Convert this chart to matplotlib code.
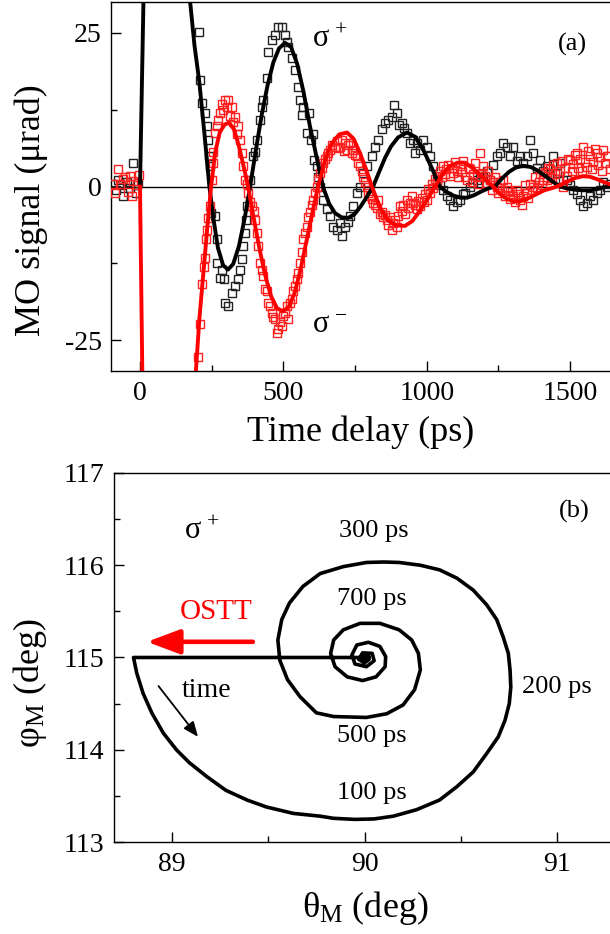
import numpy as np
import matplotlib
matplotlib.use('Agg')
import matplotlib.pyplot as plt

plt.rcParams['font.family'] = ['Liberation Serif', 'DejaVu Serif']
plt.rcParams['mathtext.fontset'] = 'custom'
plt.rcParams['mathtext.rm'] = 'Liberation Serif'
plt.rcParams['mathtext.it'] = 'Liberation Serif:italic'
plt.rcParams['axes.unicode_minus'] = False

# ---- panel (a): measured MO signal, sigma+ (black) and sigma- (red) ----
black_t = [-95, -85, -75, -65, -58, -45, -35, -23, -15, -8,
           207, 209, 215, 227, 233, 236, 240, 244, 248, 262, 267, 270, 279, 285,
           292, 298, 308, 320, 331, 343, 350, 355, 360, 366, 369, 372, 383, 395,
           401, 407, 419, 424, 430, 442, 447, 459, 471, 482, 494, 506, 512, 517,
           529, 541, 552, 558, 564, 570, 581, 590, 596, 603, 608, 616, 620, 628,
           639, 651, 663, 674, 686, 697, 703, 715, 725, 732, 744, 756, 767, 779,
           791, 808, 820, 831, 843, 855, 866, 878, 887, 895, 903, 913, 922, 930,
           942, 953, 959, 965, 977, 988, 1000, 1012, 1023, 1035, 1046, 1058, 1070,
           1081, 1093, 1105, 1116, 1128, 1134, 1151, 1163, 1174, 1186, 1198, 1210,
           1221, 1232, 1244, 1255, 1267, 1279, 1290, 1302, 1314, 1325, 1337, 1349,
           1360, 1372, 1384, 1395, 1407, 1419, 1430, 1442, 1453, 1465, 1477, 1488,
           1500, 1512, 1523, 1535, 1546, 1558, 1570, 1581, 1593, 1605, 1616, 1628, 1640]
black_y = [0.4, -0.6, 1.0, 0.2, -1.6, 0.8, -0.3, 3.9, -1.0, 0.6,
           25.1, 17.4, 13.6, 12.0, 9.8, 7.6, 4.9, 3.3, -4.3, -4.8, -8.6, -12.4, -14.8, -13.5,
           -15.1, -18.9, -19.4, -17.3, -16.2, -15.1, -13.5, -11.8, -9.7, -7.5, -5.4, -3.2, 1.0, 4.9,
           5.6, 7.6, 10.9, 13.0, 14.1, 17.7, 21.9, 23.9, 24.7, 26.0, 26.0, 24.7, 23.5, 22.7,
           20.9, 19.0, 16.2, 14.1, 11.7, 13.0, 8.8, 12.0, 7.6, 8.5, 4.4, 3.3, 1.6, 0.0,
           -2.1, -3.7, -4.8, -6.5, -7.0, -6.0, -8.1, -6.5, -5.8, -4.8, -3.2, -1.0, 0.0, 2.2,
           3.3, 4.9, 6.5, 7.6, 9.3, 10.4, 10.9, 11.4, 13.2, 12.0, 10.0, 10.4, 9.5, 8.8,
           7.1, 7.6, 5.5, 7.1, 6.0, 7.6, 6.5, 4.9, 3.3, 1.1, 0.2, -0.5, -1.5,
           -2.1, -3.2, -2.5, -2.1, -1.2, -1.0, 0.0, 0.6, 1.1, 2.0, 1.6, 2.6,
           1.1, 3.5, 4.9, 5.5, 7.1, 6.5, 5.0, 6.5, 4.2, 4.9, 3.8, 5.0,
           7.6, 5.5, 3.0, 4.4, 2.5, 3.3, 2.0, 4.9, 2.2, 3.9, 1.0, 1.1,
           0.3, -0.5, -1.2, -2.1, -3.2, -2.6, -1.5, -2.1, -1.0, -0.5, 0.8, 0.0, 0.5]

red_t = [-95, -87, -77, -68, -60, -52, -42, -35, -29, -23, -12, -5,
         203, 209, 215, 222, 227, 230, 233, 238, 244, 250, 253, 255, 262, 267, 271,
         279, 285, 290, 296, 302, 308, 314, 320, 326, 331, 337, 343, 349, 355, 360,
         366, 372, 378, 384, 390, 396, 401, 407, 413, 419, 425, 430, 436, 442, 447,
         453, 459, 465, 471, 477, 482, 488, 494, 500, 506, 512, 517, 523, 529, 535,
         541, 547, 552, 558, 564, 570, 576, 581, 587, 593, 599, 605, 610, 616, 622,
         628, 634, 639, 645, 651, 657, 663, 669, 680, 686, 692, 698, 704, 710, 715,
         721, 727, 732, 738, 744, 750, 756, 762, 767, 773, 779, 785, 791, 797, 802,
         808, 814, 820, 825, 831, 837, 843, 849, 855, 860, 866, 872, 878, 884, 889,
         895, 901, 907, 913, 918, 924, 930, 936, 942, 948, 953, 959, 965, 971, 977,
         983, 989, 994, 1000, 1006, 1012, 1018, 1023, 1029, 1035, 1041, 1046, 1052,
         1058, 1064, 1069, 1075, 1081, 1087, 1093, 1099, 1105, 1110, 1116, 1122, 1128,
         1134, 1140, 1146, 1151, 1157, 1163, 1169, 1174, 1180, 1186, 1192, 1198, 1204,
         1210, 1215, 1221, 1227, 1232, 1238, 1244, 1250, 1255, 1261, 1267, 1273, 1279,
         1284, 1290, 1296, 1302, 1308, 1314, 1319, 1325, 1331, 1337, 1343, 1349, 1355,
         1360, 1366, 1372, 1378, 1384, 1390, 1395, 1401, 1407, 1413, 1419, 1424, 1430,
         1436, 1442, 1447, 1453, 1459, 1465, 1471, 1477, 1482, 1488, 1494, 1500, 1506,
         1512, 1517, 1523, 1529, 1535, 1541, 1546, 1552, 1558, 1564, 1570, 1576, 1581,
         1587, 1593, 1599, 1605, 1611, 1616, 1622, 1628, 1634, 1640]
red_y = [0.5, -1.0, 2.8, 0.4, 1.2, 1.5, -0.8, 1.8, -1.6, 0.9, 0.3, 1.9,
         -27.8, -22.4, -15.9, -13.0, -11.6, -8.6, -7.0, -5.1, -3.2, 1.1, 3.9, 5.7, 8.8, 9.8, 10.9,
         12.0, 13.5, 12.5, 14.1, 13.0, 14.1, 11.5, 13.0, 10.5, 11.4, 8.5, 9.8, 7.6, 5.5, 3.3,
         1.1, 0.5, -1.0, -2.5, -3.2, -4.0, -5.4, -7.5, -9.7, -12.4, -13.5, -14.6, -16.7, -17.0, -18.9,
         -19.5, -20.5, -21.2, -21.6, -23.8, -23.2, -22.0, -22.7, -21.0, -20.5, -19.5, -21.6, -19.0, -18.3, -17.0,
         -16.2, -15.0, -14.0, -12.5, -10.7, -8.6, -7.5, -6.5, -5.0, -4.2, -3.0, -2.1, -1.0, 0.0, 1.2,
         2.2, 3.0, 3.9, 4.5, 4.9, 5.5, 6.0, 6.8, 6.5, 7.5, 6.3, 6.5, 7.6, 5.8, 7.1,
         6.0, 6.8, 7.1, 5.5, 6.0, 5.2, 4.9, 3.9, 3.3, 2.5, 1.6, 0.8, 0.0, -1.0, -1.6,
         -2.0, -2.6, -3.0, -3.5, -2.1, -4.5, -4.2, -5.0, -4.6, -5.4, -6.2, -5.0, -7.0, -6.0, -5.5,
         -6.5, -4.8, -3.2, -4.0, -3.0, -4.5, -2.1, -3.5, -2.6, -1.5, -2.6, -3.0, -3.7, -2.4, -3.2,
         -1.8, -2.5, -1.2, -2.1, -0.4, -1.0, 0.5, -0.3, 1.2, 0.6, 1.8, 2.5, 1.5,
         3.3, 2.0, 2.8, 3.5, 1.8, 3.0, 2.2, 4.0, 2.6, 1.5, 3.3, 2.3, 4.2,
         1.6, 1.1, 3.0, 2.8, 0.8, 2.0, 3.8, 1.5, 0.5, 5.5, 2.2, 3.3, 1.8,
         0.6, 2.5, 1.1, -0.5, 0.8, 1.6, 0.0, -1.0, 0.8, -0.5, 1.1, -1.5, 0.0,
         -0.5, -2.0, -0.8, -1.6, -2.5, -0.6, -1.2, -2.1, -3.0, -1.5, 0.2, -1.0, -1.8,
         0.5, -0.6, 0.0, 1.5, -0.2, 0.8, 2.0, 0.2, 1.1, 2.4, 1.0, 3.0, 2.8,
         1.4, 3.5, 2.0, 3.9, 1.2, 2.5, 4.2, 0.0, 3.0, 1.8, 4.5, 4.4, 2.5,
         3.6, 5.2, 5.5, 3.0, 4.5, 2.6, 6.5, 4.0, 3.2, 5.8, 4.9, 2.8, 4.0,
         6.2, 5.5, 3.5, 4.8, 2.5, 6.0, 3.8, 5.0, 4.9, 2.8]

# fitted curves
fit_black_t = [0, 6, 12, 20, 50, 90, 130, 160, 175, 190, 207, 225, 242, 257, 272, 290,
               307, 325, 345, 365, 384, 405, 425, 445, 465, 485, 506, 527, 548, 570,
               592, 615, 638, 660, 680, 703, 726, 748, 770, 792, 813, 835, 855, 875,
               900, 931, 960, 990, 1018, 1046, 1070, 1095, 1120, 1141, 1165, 1190,
               1214, 1238, 1262, 1287, 1311, 1336, 1362, 1388, 1414, 1440, 1465, 1490,
               1518, 1545, 1570, 1595, 1620, 1645]
fit_black_y = [0, 15, 30, 42, 60, 63, 55, 37, 30, 23, 17, 8.5, 0, -5.5, -10, -12.8,
               -13.5, -12.6, -9.7, -5.2, 0, 6.2, 11.8, 16.5, 20.2, 22.5, 23.4, 22.7, 20.0, 15.5,
               10.0, 5.0, 0, -2.8, -4.3, -5.0, -5.1, -4.5, -3.2, -1.6, 0, 2.5, 4.7, 6.5,
               8.0, 8.8, 8.1, 5.8, 3.0, 0, -0.9, -1.5, -1.8, -1.8, -1.4, -0.8,
               -0.3, 0, 1.3, 2.4, 3.1, 3.4, 3.2, 2.6, 1.7, 0.8, 0, -0.3,
               -0.5, -0.6, -0.6, -0.4, -0.1, 0.2]

fit_red_t = [0, 4, 8, 15, 40, 80, 120, 160, 195, 207, 223, 236, 248, 262, 278, 295,
             311, 328, 345, 362, 377, 397, 417, 437, 457, 478, 499, 520, 540, 560,
             580, 600, 621, 645, 668, 695, 722, 745, 766, 788, 809, 838, 865, 895,
             924, 950, 977, 1003, 1029, 1055, 1080, 1107, 1134, 1160, 1185, 1208, 1232,
             1255, 1280, 1302, 1325, 1350, 1380, 1410, 1440, 1465, 1490, 1518, 1545,
             1570, 1595, 1620, 1645]
fit_red_y = [0, -15, -30, -50, -75, -80, -70, -50, -30, -21.6, -13, -6, 0, 5.5, 8.8, 10.1,
             10.4, 9.3, 6.6, 3.2, 0, -5.2, -10.2, -14.5, -17.8, -19.8, -20.3, -19.5, -17.2, -13.5,
             -9.0, -4.5, 0, 4.2, 7.0, 8.5, 8.8, 7.8, 5.6, 2.9, 0, -3.5, -5.5, -6.3,
             -6.4, -5.6, -3.9, -2.0, 0, 2.0, 3.3, 3.9, 3.9, 3.0, 2.0, 1.0, 0,
             -1.2, -2.0, -2.4, -2.4, -2.0, -1.3, -0.6, -0.2, 0.2, 0.8, 1.4, 1.7,
             1.6, 1.2, 0.7, 0.3]

# ---- panel (b): magnetization trajectory (theta_M, phi_M) ----
spiral_theta = [90.00, 88.80, 88.817, 88.85, 88.895, 88.955, 89.024, 89.09, 89.18, 89.28,
                89.39, 89.49, 89.63, 89.77, 89.838, 89.95, 90.05, 90.15, 90.27, 90.39,
                90.48, 90.565, 90.635, 90.695, 90.73, 90.752, 90.76, 90.756, 90.747,
                90.72, 90.687, 90.635, 90.565, 90.48, 90.39, 90.29, 90.18, 90.10, 90.01,
                89.89, 89.77, 89.68, 89.61, 89.57, 89.55, 89.56, 89.60, 89.665, 89.75,
                89.84, 90.01, 90.115, 90.20, 90.26, 90.29, 90.28, 90.245, 90.18, 90.08,
                89.977, 89.89, 89.84, 89.824, 89.847, 89.91, 89.99, 90.06, 90.107, 90.11,
                90.08, 90.02, 89.96, 89.935, 89.95, 90.01, 90.05, 90.04, 89.99, 89.97,
                90.00, 90.025, 90.00]
spiral_phi = [115.00, 115.00, 114.83, 114.61, 114.40, 114.18, 113.997, 113.86, 113.71, 113.56,
              113.455, 113.38, 113.31, 113.28, 113.257, 113.245, 113.25, 113.28, 113.35, 113.455,
              113.60, 113.76, 113.96, 114.14, 114.32, 114.50, 114.68, 114.865, 115.045,
              115.225, 115.41, 115.57, 115.73, 115.86, 115.95, 116.00, 116.03, 116.035, 116.03,
              115.985, 115.91, 115.77, 115.59, 115.41, 115.19, 114.97, 114.76, 114.575, 114.40,
              114.36, 114.35, 114.39, 114.485, 114.65, 114.865, 115.045, 115.19, 115.30, 115.37,
              115.37, 115.30, 115.19, 115.045, 114.90, 114.79, 114.75, 114.79, 114.90, 115.01,
              115.12, 115.165, 115.135, 115.03, 114.93, 114.90, 114.965, 115.045, 115.05, 114.98,
              114.94, 114.99, 115.00]

ps_labels = ['300 ps', '700 ps', '200 ps', '500 ps', '100 ps']


def style_axes(ax):
    ax.tick_params(which='both', direction='in', top=False, right=False,
                   labelsize=20, width=1, pad=7)
    ax.tick_params(which='major', length=7)
    ax.tick_params(which='minor', length=4)
    for s in ax.spines.values():
        s.set_linewidth(1.0)


fig = plt.figure(figsize=(6.10, 9.34), dpi=100)

# ---------------- (a) ----------------
ax1 = fig.add_axes([0.1825, 0.6028, 0.846, 0.3948])
ax1.axhline(0, color='k', lw=1.0, zorder=1)
ax1.plot(black_t, black_y, 's', ms=6.2, mfc='none', mec='#222222', mew=1.0, zorder=2)
ax1.plot(red_t, red_y, 's', ms=6.2, mfc='none', mec='#ff2020', mew=1.0, zorder=3)
ax1.plot(fit_black_t, fit_black_y, '-', color='k', lw=2.8, zorder=4)
ax1.plot(fit_red_t, fit_red_y, '-', color='#ff0000', lw=2.8, zorder=5)
ax1.set_xlim(-100, 1700)
ax1.set_ylim(-30, 30)
ax1.set_xticks([0, 500, 1000, 1500])
ax1.set_xticks([250, 750, 1250], minor=True)
ax1.set_yticks([-25, 0, 25])
ax1.set_yticks([-12.5, 12.5], minor=True)
style_axes(ax1)
ax1.text(600, 24, 'σ$^{\\,+}$', fontsize=22, ha='left', va='center')
ax1.text(600, -22.6, 'σ$^{\\,-}$', fontsize=22, ha='left', va='center')
ax1.text(1507, 23.2, '(a)', fontsize=19, ha='center', va='center')

fig.text(31 / 610, 1 - 210 / 934, 'MO signal (μrad)', rotation=90,
         fontsize=26, ha='center', va='center')
fig.text(361 / 610, 1 - 432 / 934, 'Time delay (ps)', fontsize=26,
         ha='center', va='center')

# ---------------- (b) ----------------
ax2 = fig.add_axes([0.1873, 0.0985, 0.8205, 0.3951])
ax2.plot(spiral_theta, spiral_phi, '-', color='k', lw=2.6, solid_joinstyle='round')
ax2.plot(spiral_theta[-1], spiral_phi[-1], 'o', color='k', ms=7)
ax2.set_xlim(88.7, 91.3)
ax2.set_ylim(113, 117)
ax2.set_xticks([89, 90, 91])
ax2.set_xticks([89.5, 90.5], minor=True)
ax2.set_yticks([113, 114, 115, 116, 117])
ax2.set_yticks([113.5, 114.5, 115.5, 116.5], minor=True)
style_axes(ax2)

ax2.text(89.06, 116.37, 'σ$^{\\,+}$', fontsize=22, ha='left', va='center')
ax2.text(91.09, 116.58, '(b)', fontsize=19, ha='center', va='center')
label_pos = [(90.05, 116.37), (90.04, 115.63), (91.0, 114.68), (90.04, 114.15), (90.04, 113.53)]
for lab, (x, y) in zip(ps_labels, label_pos):
    ax2.text(x, y, lab, fontsize=19, ha='center', va='center')

ax2.text(89.23, 115.49, 'OSTT', fontsize=21, color='#ff0000', ha='center', va='center')
ax2.annotate('', xy=(88.87, 115.17), xytext=(89.42, 115.17),
             arrowprops=dict(arrowstyle='-|>,head_length=0.8,head_width=0.3',
                             color='#ff0000', lw=3.3, mutation_scale=25,
                             shrinkA=0, shrinkB=0))
ax2.text(89.18, 114.64, 'time', fontsize=20, ha='center', va='center')
ax2.annotate('', xy=(89.135, 114.14), xytext=(88.93, 114.69),
             arrowprops=dict(arrowstyle='-|>,head_length=0.6,head_width=0.25',
                             color='k', lw=1.3, mutation_scale=15,
                             shrinkA=0, shrinkB=0))

fig.text(30 / 610, 1 - 683 / 934, 'φ$_\\mathrm{M}$ (deg)', rotation=90,
         fontsize=26, ha='center', va='center')
fig.text(365 / 610, 1 - 908 / 934, 'θ$_\\mathrm{M}$ (deg)', fontsize=26,
         ha='center', va='center')

fig.savefig('out.png', dpi=100)
